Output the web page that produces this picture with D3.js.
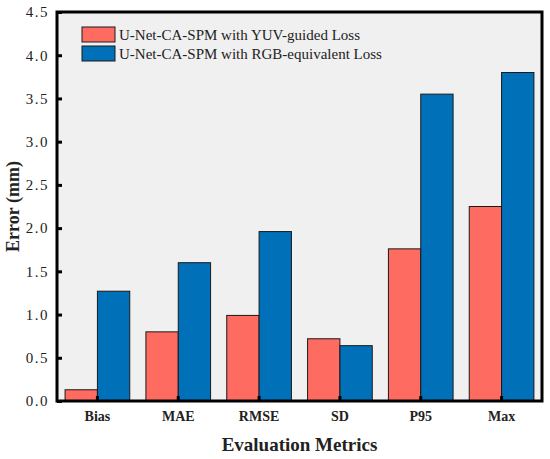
<!DOCTYPE html>
<html>
<head>
<meta charset="utf-8">
<script src="https://cdn.jsdelivr.net/npm/d3@7"></script>
<style>
  body { margin: 0; background: #fff; }
  svg text { font-family: "Liberation Serif", "DejaVu Serif", serif; }
</style>
</head>
<body>
<div id="chart"></div>
<script>
// Chart size and plot margins
const width = 550;
const height = 459;
const margin = {left: 57, right: 8, top: 12, bottom: 58};

// Data
const metrics = ["Bias", "MAE", "RMSE", "SD", "P95", "Max"];
const seriesNames = ["U-Net-CA-SPM with YUV-guided Loss", "U-Net-CA-SPM with RGB-equivalent Loss"];
const yuvValues = [0.13, 0.80, 0.99, 0.72, 1.76, 2.25];
const rgbValues = [1.27, 1.60, 1.96, 0.64, 3.55, 3.80];
const yTicks = [0, 0.5, 1.0, 1.5, 2.0, 2.5, 3.0, 3.5, 4.0, 4.5];
const colors = ["#fe6b61", "#0070b9"];

const svg = d3.select("#chart")
  .append("svg")
  .attr("width", width)
  .attr("height", height);

// Scales
const xScale = d3.scaleBand()
  .domain(metrics)
  .range([margin.left, width - margin.right])
  .paddingInner(0.2)
  .paddingOuter(0.1);

const xSub = d3.scaleBand()
  .domain([0, 1])
  .range([0, xScale.bandwidth()]);

const yScale = d3.scaleLinear()
  .domain([0, 4.5])
  .range([height - margin.bottom, margin.top]);

// Plot background
svg.append("rect")
  .attr("x", margin.left)
  .attr("y", margin.top)
  .attr("width", width - margin.left - margin.right)
  .attr("height", height - margin.top - margin.bottom)
  .attr("fill", "#f0f0f0");

// Bars
const groups = svg.selectAll(".group")
  .data(metrics)
  .enter()
  .append("g")
    .attr("class", "group")
    .attr("transform", d => `translate(${xScale(d)},0)`);

groups.selectAll("rect")
  .data((d, i) => [yuvValues[i], rgbValues[i]])
  .enter()
  .append("rect")
    .attr("x", (d, j) => xSub(j))
    .attr("y", d => yScale(d))
    .attr("width", xSub.bandwidth())
    .attr("height", d => yScale(0) - yScale(d))
    .attr("fill", (d, j) => colors[j])
    .attr("stroke", "#1a1a1a")
    .attr("stroke-width", 1);

// Y axis (ticks inside)
const yAxis = svg.append("g")
  .attr("transform", `translate(${margin.left},0)`)
  .call(d3.axisLeft(yScale)
    .tickValues(yTicks)
    .tickSize(-5)
    .tickPadding(8)
    .tickFormat(d3.format(".1f")));

yAxis.select(".domain").remove();
yAxis.selectAll(".tick line").attr("stroke", "#000").attr("stroke-width", 3);
yAxis.selectAll(".tick text")
  .attr("font-size", "15px")
  .attr("letter-spacing", "1.5px")
  .attr("fill", "#222");

// X axis (ticks inside at group centres)
const xAxis = svg.append("g")
  .attr("transform", `translate(0,${height - margin.bottom})`)
  .call(d3.axisBottom(xScale)
    .tickSize(-5)
    .tickPadding(10));

xAxis.select(".domain").remove();
xAxis.selectAll(".tick line").attr("stroke", "#000").attr("stroke-width", 3);
xAxis.selectAll(".tick text")
  .attr("font-size", "14px")
  .attr("font-weight", "bold")
  .attr("fill", "#222");

// Frame
svg.append("rect")
  .attr("x", margin.left)
  .attr("y", margin.top)
  .attr("width", width - margin.left - margin.right)
  .attr("height", height - margin.top - margin.bottom)
  .attr("fill", "none")
  .attr("stroke", "#000")
  .attr("stroke-width", 3);

// Axis titles
svg.append("text")
  .attr("x", (margin.left + width - margin.right) / 2)
  .attr("y", 451)
  .attr("text-anchor", "middle")
  .attr("font-size", "19px")
  .attr("font-weight", "bold")
  .attr("fill", "#222")
  .text("Evaluation Metrics");

svg.append("text")
  .attr("transform", `translate(19,${(margin.top + height - margin.bottom) / 2}) rotate(-90)`)
  .attr("text-anchor", "middle")
  .attr("font-size", "18px")
  .attr("font-weight", "bold")
  .attr("fill", "#222")
  .text("Error (mm)");

// Legend
const legend = svg.selectAll(".legend")
  .data(seriesNames)
  .enter()
  .append("g")
    .attr("class", "legend")
    .attr("transform", (d, i) => `translate(82,${27 + i * 19})`);

legend.append("rect")
  .attr("width", 33)
  .attr("height", 15)
  .attr("fill", (d, i) => colors[i])
  .attr("stroke", "#1a1a1a")
  .attr("stroke-width", 1);

legend.append("text")
  .attr("x", 37)
  .attr("y", 13)
  .attr("font-size", "15px")
  .attr("fill", "#222")
  .text(d => d);
</script>
</body>
</html>
